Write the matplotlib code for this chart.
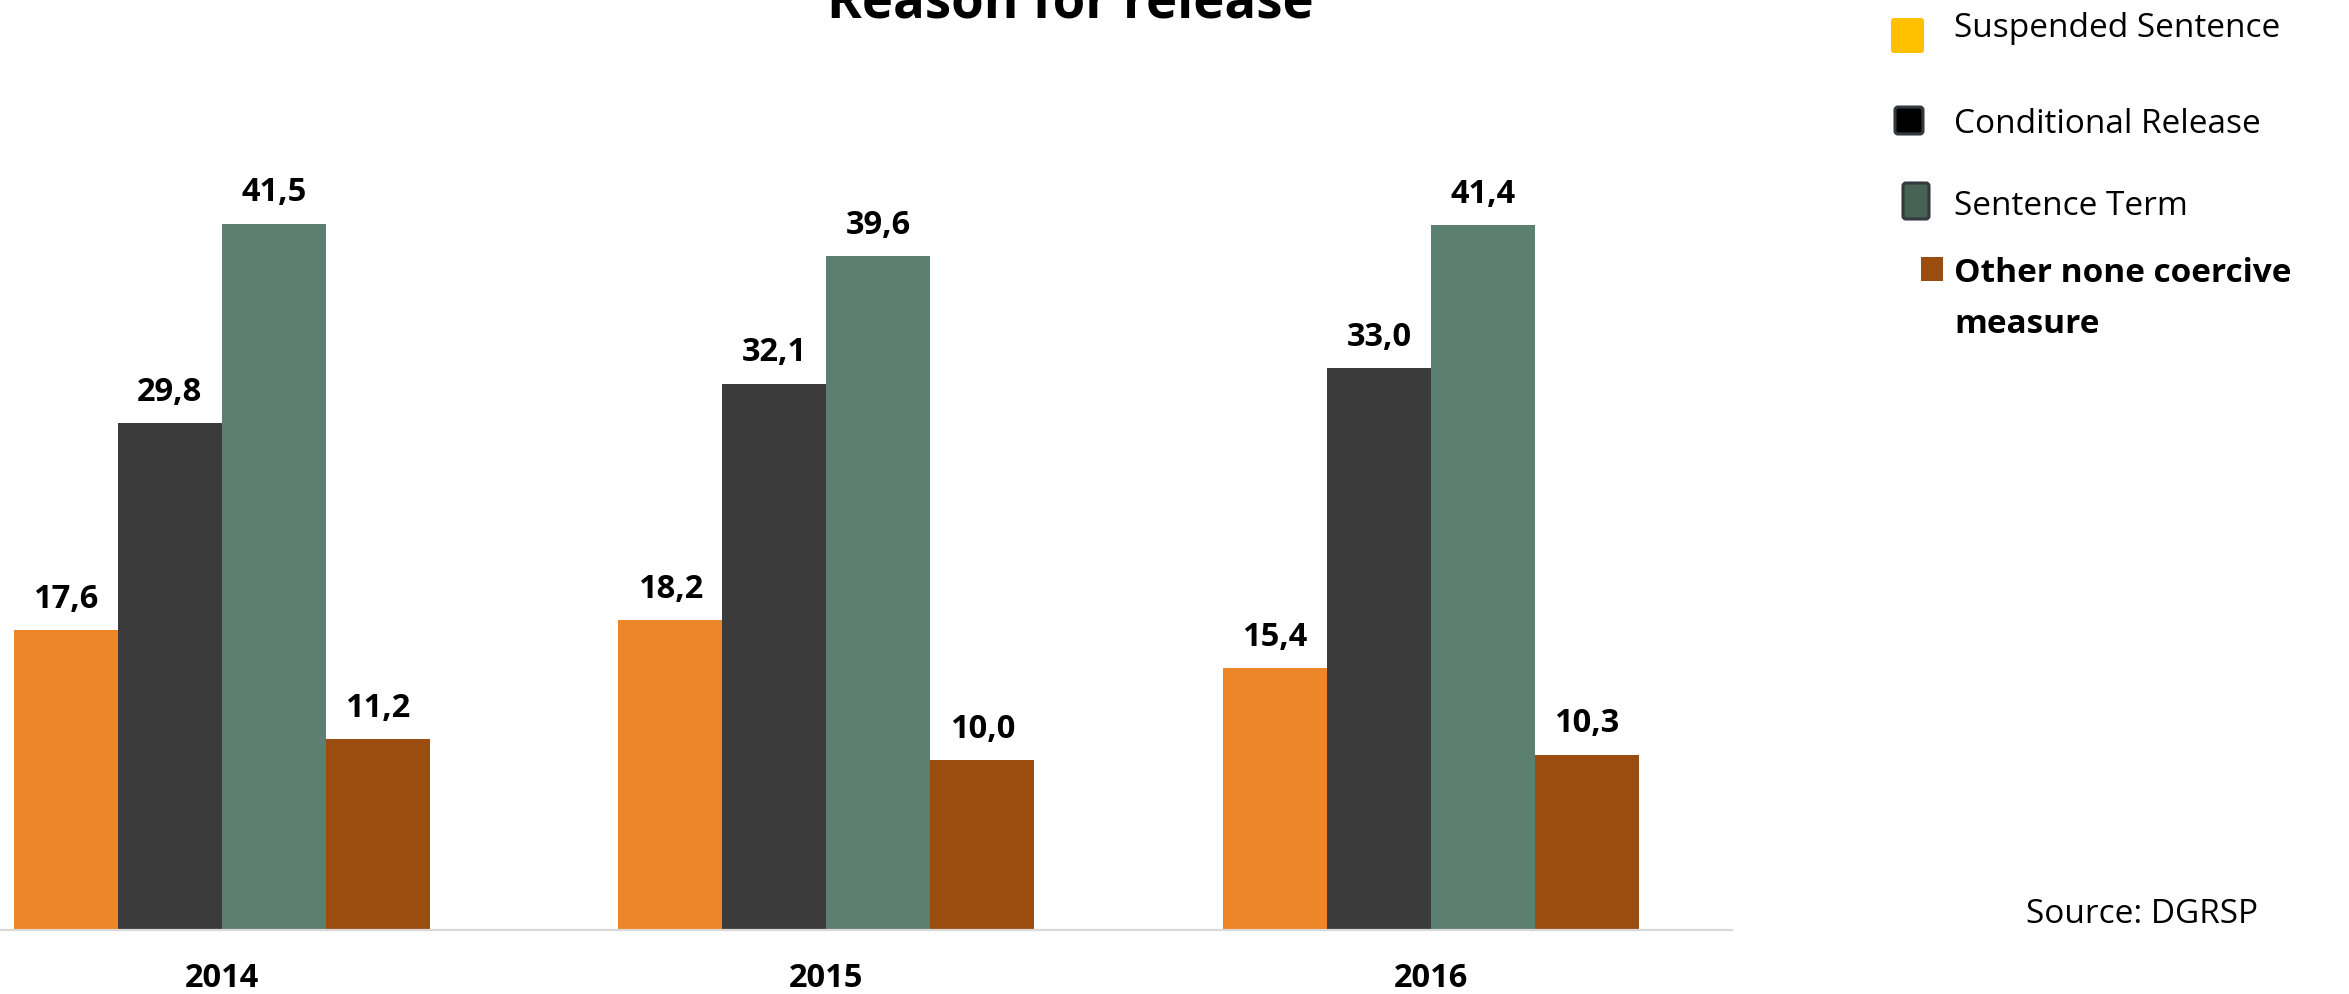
import numpy as np
import matplotlib
matplotlib.use("Agg")
import matplotlib.pyplot as plt
from matplotlib.patches import FancyBboxPatch, Rectangle
from matplotlib.transforms import IdentityTransform

plt.rcParams['font.family'] = ['Open Sans', 'DejaVu Sans']

# data
years = ['2014', '2015', '2016']
series = ['Suspended Sentence', 'Conditional Release', 'Sentence Term', 'Other none coercive\nmeasure']
suspended = [17.6, 18.2, 15.4]
conditional = [29.8, 32.1, 33.0]
sentence_term = [41.5, 39.6, 41.4]
other = [11.2, 10.0, 10.3]

bar_colors = ['#ED8529', '#3B3B3B', '#5B7F70', '#9A4D0E']

W, H = 2349, 994
fig = plt.figure(figsize=(W / 100, H / 100), dpi=100)

# axes: left edge cropped, baseline at y=930px
ax = fig.add_axes([0, (H - 930) / H, 1732 / W, 930 / H])
ax.set_xlim(-0.367, 2.498)
ax.set_ylim(0, 930 / 17.02)

x = np.arange(len(years))
width = 0.172
offsets = [-1.5 * width, -0.5 * width, 0.5 * width, 1.5 * width]

for vals, off, col in zip([suspended, conditional, sentence_term, other], offsets, bar_colors):
    bars = ax.bar(x + off, vals, width=width, color=col, linewidth=0)
    for b, v in zip(bars, vals):
        ax.annotate(f'{v:.1f}'.replace('.', ','),
                    xy=(b.get_x() + b.get_width() / 2, v),
                    xytext=(0, 16), textcoords='offset points',
                    ha='center', va='baseline', fontsize=23.5, fontweight='bold')

for i, yr in enumerate(years):
    ax.annotate(yr, xy=(x[i], 0), xytext=(0, -41), textcoords='offset points',
                ha='center', va='baseline', fontsize=23.5, fontweight='bold',
                annotation_clip=False)

for s in ['top', 'left', 'right']:
    ax.spines[s].set_visible(False)
ax.spines['bottom'].set_color('#D9D9D9')
ax.spines['bottom'].set_linewidth(1.6)
ax.set_xticks([])
ax.set_yticks([])

# title (cut off at the top in the original)
fig.text(1070 / W, 1 - 18 / H, 'Reason for release', ha='center', va='baseline',
         fontsize=38, fontweight='bold')

# legend, drawn by hand in pixel coordinates
def px(xp, yp_top):
    return xp, H - yp_top

marker_specs = [
    # x0, y_top, x1, y_bottom, face, edge, rounded
    (1891, 18, 1924, 53, '#FFC000', 'none', True),
    (1895, 107, 1923, 134, '#000000', '#343A40', True),
    (1903, 183, 1929, 219, '#466353', '#343A40', True),
    (1921, 257, 1943, 281, '#9A4D0E', 'none', False),
]
for x0, yt, x1, yb, face, edge, rounded in marker_specs:
    lx, ly = px(x0, yb)
    if rounded:
        p = FancyBboxPatch((lx, ly), x1 - x0, yb - yt,
                           boxstyle='round,pad=0,rounding_size=3',
                           facecolor=face, edgecolor=edge,
                           linewidth=2.2 if edge != 'none' else 0,
                           transform=IdentityTransform())
    else:
        p = Rectangle((lx, ly), x1 - x0, yb - yt, facecolor=face, linewidth=0,
                      transform=IdentityTransform())
    fig.add_artist(p)

# baseline of the last line of each label
legend_baselines = [37, 133, 215, 333]
legend_weights = ['normal', 'normal', 'normal', 'bold']
for label, base, wgt in zip(series, legend_baselines, legend_weights):
    fig.text(1954 / W, 1 - base / H, label, ha='left', va='baseline',
             fontsize=24, fontweight=wgt, linespacing=1.72)

fig.text(2026 / W, 1 - 923 / H, 'Source: DGRSP', ha='left', va='baseline', fontsize=24)

fig.savefig('out.png', dpi=100, facecolor='white')
